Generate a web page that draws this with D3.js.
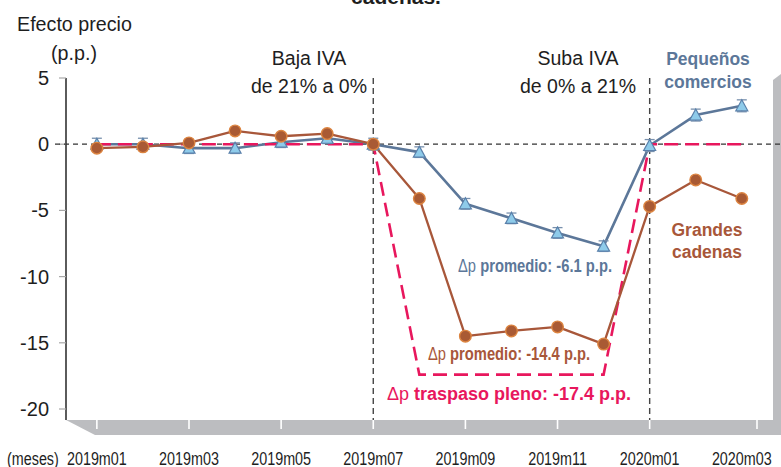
<!DOCTYPE html>
<html><head><meta charset="utf-8">
<script src="https://cdn.jsdelivr.net/npm/d3@7"></script>
<style>
body{margin:0;background:#fff}
svg{display:block}
text{font-family:"Liberation Sans",Arial,Helvetica,sans-serif}
</style>
</head><body>
<svg id="c" width="781" height="467"></svg>
<script>
// ---- data ----
const months = ["2019m01","2019m02","2019m03","2019m04","2019m05","2019m06","2019m07","2019m08","2019m09","2019m10","2019m11","2019m12","2020m01","2020m02","2020m03"];
const pequenos    = [0.0, 0.0, -0.3, -0.3, 0.15, 0.45, 0.0, -0.6, -4.5, -5.6, -6.7, -7.7, -0.1, 2.2, 2.9];
const pequenosErr = [0.45,0.45,0.4,0.4,0.4,0.4,0.45,0.4,0.4,0.4,0.4,0.4,0.45,0.45,0.45];
const grandes     = [-0.3, -0.2, 0.1, 1.0, 0.6, 0.8, 0.0, -4.1, -14.5, -14.1, -13.8, -15.1, -4.7, -2.7, -4.1];
const pleno       = [0, 0, 0, 0, 0, 0, 0, -17.4, -17.4, -17.4, -17.4, -17.4, 0, 0, 0];
const yTicks = [5, 0, -5, -10, -15, -20];
const xTickLabels = ["2019m01","2019m03","2019m05","2019m07","2019m09","2019m11","2020m01","2020m03"];
const ivaEvents = ["2019m07","2020m01"];

// ---- scales ----
const svg = d3.select("#c");
const x = d3.scaleLinear().domain([-0.67, 14.33]).range([66, 757]);
const y = d3.scaleLinear().domain([-20, 5]).range([409, 78]);
const xm = m => x(months.indexOf(m));
const floorTop = 420, floorBot = 435, depth = 29;

const C = {blue:"#5c7799", blueFill:"#8ecbea", blueStroke:"#5a80aa", brown:"#a8573a", brownFill:"#a95a34", brownStroke:"#dc8440", red:"#e8175d", ink:"#1e1e1e"};

// title fragment (clipped at top)
svg.append("text").attr("x", 396).attr("y", 4).attr("text-anchor","middle")
  .attr("font-size", 21).attr("font-weight","bold").attr("fill", C.ink).text("cadenas.");

// ---- floor & wall ----
const [x0, x1] = x.range();
svg.append("polygon")
  .attr("points", [[x0, floorTop],[790, floorTop],[790, floorBot],[x0+depth, floorBot]].map(p=>p.join(",")).join(" "))
  .attr("fill", "#bcbdc0");
svg.append("polygon")
  .attr("points", [[773, 80],[781, 74],[781, floorBot],[773, floorTop]].map(p=>p.join(",")).join(" "))
  .attr("fill", "#bcbdc0");

// x ticks on floor (white)
const tickIdx = xTickLabels.filter(l => l !== "2020m03").map(l => months.indexOf(l)).concat([x.domain()[1]]);
svg.append("g").selectAll("line").data(tickIdx).join("line")
  .attr("x1", d=>x(d)).attr("x2", d=>x(d)).attr("y1", floorTop).attr("y2", floorTop+9)
  .attr("stroke", "#fff").attr("stroke-width", 1.6);

// x labels (narrow)
svg.append("g").selectAll("text").data(xTickLabels).join("text")
  .attr("transform", d => `translate(${xm(d)},464.5) scale(0.82,1)`)
  .attr("text-anchor","middle").attr("font-size", 17.5).attr("fill", C.ink).text(d=>d);
svg.append("text").attr("transform","translate(7,464.5) scale(0.82,1)")
  .attr("font-size", 17.5).attr("fill", C.ink).text("(meses)");

// ---- y axis ----
svg.append("line").attr("x1", x0).attr("x2", x0).attr("y1", y(5)).attr("y2", floorTop)
  .attr("stroke", "#333").attr("stroke-width", 1.6);
svg.append("g").selectAll("line").data(yTicks).join("line")
  .attr("x1", x0-7).attr("x2", x0).attr("y1", d=>y(d)).attr("y2", d=>y(d))
  .attr("stroke", "#a8a8a8").attr("stroke-width", 1.2);
svg.append("g").selectAll("text").data(yTicks).join("text")
  .attr("x", 49).attr("y", d=>y(d)+7).attr("text-anchor","end")
  .attr("font-size", 20).attr("fill", C.ink).text(d=>d);

svg.append("text").attr("x", 17).attr("y", 31).attr("font-size", 19.7).attr("fill", C.ink).text("Efecto precio");
svg.append("text").attr("x", 74).attr("y", 60).attr("text-anchor","middle").attr("font-size", 19.7).attr("fill", C.ink).text("(p.p.)");

// zero line
svg.append("line").attr("x1", 55).attr("x2", 781).attr("y1", y(0)).attr("y2", y(0))
  .attr("stroke", "#333").attr("stroke-width", 1.2).attr("stroke-dasharray","5,4");

// IVA event lines
svg.append("g").selectAll("line").data(ivaEvents).join("line")
  .attr("x1", d=>xm(d)).attr("x2", d=>xm(d)).attr("y1", y(5)).attr("y2", floorTop)
  .attr("stroke", "#444").attr("stroke-width", 1.4).attr("stroke-dasharray","6,4");

// event annotations
const ann = [
  {t:["Baja IVA","de 21% a 0%"], x:309},
  {t:["Suba IVA","de 0% a 21%"], x:578}
];
ann.forEach(a => {
  a.t.forEach((s,i) => svg.append("text").attr("x", a.x).attr("y", 65 + i*28)
    .attr("text-anchor","middle").attr("font-size", 19.5).attr("fill", C.ink).text(s));
});

// ---- lines ----
const line = d3.line().x((d,i)=>x(i)).y(d=>y(d));

svg.append("path").datum(pequenos).attr("d", line)
  .attr("fill","none").attr("stroke", C.blue).attr("stroke-width", 2.6).attr("stroke-linejoin","round");

svg.append("path").datum(pleno).attr("d", line)
  .attr("fill","none").attr("stroke", C.red).attr("stroke-width", 2.6).attr("stroke-dasharray","14,7");

svg.append("path").datum(grandes).attr("d", line)
  .attr("fill","none").attr("stroke", C.brown).attr("stroke-width", 2.3).attr("stroke-linejoin","round");

// blue markers with error bars
const gb = svg.append("g").selectAll("g").data(pequenos).join("g")
  .attr("transform", (d,i)=>`translate(${x(i)},${y(d)})`);
gb.append("line").attr("x1",0).attr("x2",0)
  .attr("y1",(d,i)=>y(d - pequenosErr[i]) - y(d)).attr("y2",(d,i)=>y(d + pequenosErr[i]) - y(d))
  .attr("stroke","#7890ad").attr("stroke-width",1.2);
[1,-1].forEach(s => gb.append("line").attr("x1",-5).attr("x2",5)
  .attr("y1",(d,i)=>y(d + s*pequenosErr[i]) - y(d)).attr("y2",(d,i)=>y(d + s*pequenosErr[i]) - y(d))
  .attr("stroke","#7890ad").attr("stroke-width",1.3));
gb.append("path").attr("d","M0,-6 L6,5 L-6,5 Z")
  .attr("fill", C.blueFill).attr("stroke", C.blueStroke).attr("stroke-width", 1.2);

// brown markers
svg.append("g").selectAll("circle").data(grandes).join("circle")
  .attr("cx",(d,i)=>x(i)).attr("cy", d=>y(d)).attr("r", 5.8)
  .attr("fill", C.brownFill).attr("stroke", C.brownStroke).attr("stroke-width", 1.4);

// ---- series labels ----
[["Pequeños",65],["comercios",88]].forEach(([s,yy]) => svg.append("text").attr("x",708).attr("y",yy)
  .attr("text-anchor","middle").attr("font-size",17.5).attr("font-weight","bold").attr("fill", C.blue).text(s));
[["Grandes",236],["cadenas",258]].forEach(([s,yy]) => svg.append("text").attr("x",707).attr("y",yy)
  .attr("text-anchor","middle").attr("font-size",17.5).attr("font-weight","bold").attr("fill", C.brown).text(s));

function deltaLabel(cx, by, rest, color, narrow){
  const t = svg.append("text")
    .attr("transform", `translate(${cx},${by}) scale(${narrow?0.82:1},1)`)
    .attr("text-anchor","middle").attr("font-size",18).attr("fill",color);
  t.append("tspan").text("\u0394p ");
  t.append("tspan").attr("font-weight","bold").text(rest);
}
deltaLabel(535, 272, "promedio: -6.1 p.p.", C.blue, true);
deltaLabel(509, 360, "promedio: -14.4 p.p.", C.brown, true);
deltaLabel(509, 400, "traspaso pleno: -17.4 p.p.", C.red, false);
</script>
</body></html>
